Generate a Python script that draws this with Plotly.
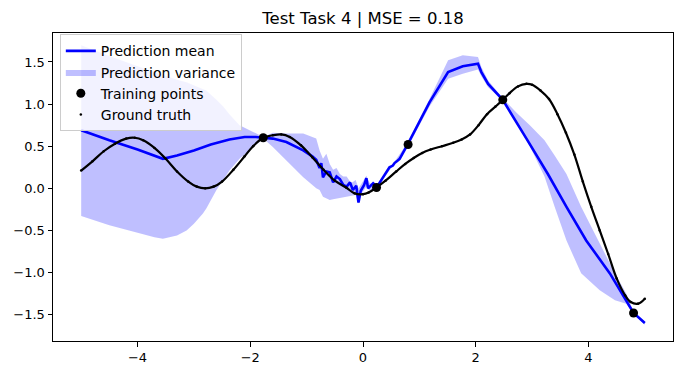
import plotly.graph_objects as go

# ---------------- data ----------------
mean_x = [-5.0, -4.5, -4.0, -3.55, -3.3, -3.0, -2.7, -2.37, -2.1, -1.9, -1.77, -1.6,
          -1.36, -1.2, -1.06, -0.9, -0.83, -0.77, -0.74, -0.71, -0.65, -0.59, -0.53,
          -0.47, -0.41, -0.35, -0.29, -0.23, -0.18, -0.12, -0.08, -0.04, 0.02, 0.06,
          0.09, 0.12, 0.18, 0.25, 0.47, 0.53, 0.56, 0.60, 0.65, 0.80, 1.18, 1.51,
          1.77, 2.04, 2.10, 2.22, 2.48, 2.90, 3.28, 3.61, 3.96, 4.38, 4.73, 4.80, 5.0]
mean_y = [0.69, 0.57, 0.46, 0.35, 0.39, 0.45, 0.52, 0.58, 0.61, 0.61, 0.60, 0.59,
          0.55, 0.50, 0.45, 0.38, 0.34, 0.24, 0.30, 0.13, 0.20, 0.19, 0.07,
          0.14, 0.11, 0.04, 0.02, 0.07, -0.02, 0.03, -0.17, -0.03, 0.04, 0.12,
          0.00, 0.02, 0.06, 0.02, 0.25, 0.27, 0.30, 0.32, 0.35, 0.53, 1.02, 1.38,
          1.45, 1.48, 1.38, 1.24, 1.05, 0.59, 0.17, -0.22, -0.62, -1.01, -1.41, -1.48, -1.60]

band_x = [-5.0, -4.5, -4.0, -3.7, -3.55, -3.3, -3.13, -3.0, -2.84, -2.78, -2.6, -2.48,
          -2.37, -2.19, -1.95, -1.77, -1.6, -1.36, -1.06, -0.83, -0.77, -0.71, -0.65,
          -0.59, -0.53, -0.47, -0.41, -0.35, -0.29, -0.21, -0.13, -0.08, -0.03, 0.06,
          0.12, 0.25, 0.50, 0.80, 1.18, 1.51, 1.77, 2.04, 2.10, 2.22, 2.48, 2.72,
          2.96, 3.22, 3.40, 3.61, 3.87, 4.20, 4.47, 4.67, 4.80, 5.0]
band_lo = [-0.33, -0.44, -0.53, -0.58, -0.60, -0.56, -0.50, -0.42, -0.30, -0.24, -0.02, 0.10,
           0.21, 0.35, 0.49, 0.59, 0.49, 0.33, 0.13, 0.00, -0.02, -0.10, -0.12,
           -0.14, -0.13, -0.12, -0.11, -0.10, -0.10, -0.09, -0.08, -0.18, -0.07, 0.02,
           -0.03, 0.01, 0.24, 0.50, 0.97, 1.30, 1.36, 1.41, 1.33, 1.20, 1.04, 0.78,
           0.50, 0.14, -0.22, -0.62, -1.01, -1.21, -1.33, -1.37, -1.49, -1.62]
band_hi = [1.70, 1.57, 1.45, 1.38, 1.35, 1.29, 1.26, 1.22, 1.18, 1.16, 1.05, 0.97,
           0.88, 0.75, 0.67, 0.61, 0.66, 0.65, 0.65, 0.59, 0.45, 0.35, 0.41,
           0.29, 0.22, 0.24, 0.17, 0.14, 0.14, 0.06, 0.10, 0.00, 0.05, 0.15,
           0.06, 0.03, 0.26, 0.55, 1.06, 1.52, 1.58, 1.56, 1.44, 1.28, 1.07, 0.90,
           0.75, 0.57, 0.39, 0.17, -0.22, -0.66, -1.01, -1.25, -1.47, -1.58]

train_x = [-1.77, 0.24, 0.80, 2.48, 4.80]
train_y = [0.60, 0.01, 0.52, 1.05, -1.48]

truth_x = [-5.0, -4.8, -4.6, -4.4, -4.2, -4.05, -3.9, -3.7, -3.5, -3.3, -3.1, -2.95,
           -2.8, -2.65, -2.5, -2.3, -2.1, -1.95, -1.77, -1.6, -1.45, -1.3, -1.1, -0.9,
           -0.7, -0.5, -0.3, -0.15, 0.0, 0.1, 0.24, 0.4, 0.59, 0.75, 0.9, 1.05, 1.2,
           1.4, 1.6, 1.75, 1.9, 2.05, 2.2, 2.35, 2.48, 2.6, 2.75, 2.9, 3.0, 3.15, 3.3,
           3.45, 3.6, 3.75, 3.9, 4.05, 4.2, 4.35, 4.5, 4.65, 4.75, 4.88, 5.0]
truth_y = [0.21, 0.32, 0.44, 0.53, 0.59, 0.60, 0.57, 0.48, 0.35, 0.20, 0.08, 0.02,
           0.00, 0.02, 0.08, 0.22, 0.38, 0.50, 0.60, 0.63, 0.64, 0.61, 0.51, 0.37,
           0.22, 0.09, 0.01, -0.06, -0.07, -0.05, 0.01, 0.09, 0.20, 0.29, 0.36, 0.42, 0.46,
           0.50, 0.54, 0.58, 0.64, 0.75, 0.88, 0.97, 1.05, 1.13, 1.21, 1.24, 1.23, 1.16, 1.06,
           0.88, 0.66, 0.40, 0.08, -0.22, -0.50, -0.78, -1.07, -1.27, -1.35, -1.37, -1.31]

x_ticks = [-4, -2, 0, 2, 4]
x_tick_text = ["\u22124", "\u22122", "0", "2", "4"]
y_ticks = [-1.5, -1.0, -0.5, 0.0, 0.5, 1.0, 1.5]
y_tick_text = ["\u22121.5", "\u22121.0", "\u22120.5", "0.0", "0.5", "1.0", "1.5"]

title_text = "Test Task 4 | MSE = 0.18"

# ---------------- figure ----------------
FONT = "DejaVu Sans"
fig = go.Figure()

fig.add_trace(go.Scatter(
    x=band_x + band_x[::-1], y=band_hi + band_lo[::-1],
    fill="toself", fillcolor="rgba(0,0,255,0.25)", line=dict(width=0),
    mode="lines", name="Prediction variance", legendrank=2, hoverinfo="skip"))

fig.add_trace(go.Scatter(
    x=mean_x, y=mean_y, mode="lines", line=dict(color="blue", width=2.6),
    name="Prediction mean", legendrank=1))

fig.add_trace(go.Scatter(
    x=truth_x, y=truth_y, mode="lines", line=dict(color="black", width=2.2, shape="spline"),
    showlegend=False, hoverinfo="skip"))

fig.add_trace(go.Scatter(
    x=truth_x, y=truth_y, mode="markers", marker=dict(color="black", size=2.5),
    name="Ground truth", legendrank=4))

fig.add_trace(go.Scatter(
    x=train_x, y=train_y, mode="markers", marker=dict(color="black", size=9),
    name="Training points", legendrank=3))

axis_common = dict(
    showgrid=False, zeroline=False, showline=True, linecolor="black", linewidth=1,
    mirror=True, ticks="outside", ticklen=4.5, tickwidth=1, tickcolor="black",
    automargin=False,
    tickfont=dict(family=FONT, size=13, color="black"),
)

fig.update_layout(
    width=683, height=374,
    margin=dict(l=53, r=10, t=33, b=33, autoexpand=False),
    paper_bgcolor="white", plot_bgcolor="white",
    title=dict(text=title_text, x=0.5, xref="paper", y=1 - 18 / 374, yref="container",
               xanchor="center", yanchor="middle",
               font=dict(family=FONT, size=16.5, color="black")),
    xaxis=dict(range=[-5.5, 5.5], tickvals=x_ticks, ticktext=x_tick_text, **axis_common),
    yaxis=dict(range=[-1.813, 1.844], tickvals=y_ticks, ticktext=y_tick_text, **axis_common),
    legend=dict(x=0.011, y=0.996, xanchor="left", yanchor="top",
                bgcolor="rgba(255,255,255,0.8)", bordercolor="#cccccc", borderwidth=1,
                font=dict(family=FONT, size=14, color="black"), traceorder="normal",
                tracegroupgap=0),
    showlegend=True,
)

fig.write_html(
    "out.html",
    config={"displayModeBar": False},
    post_script="document.body.style.margin='0px';document.body.style.overflow='hidden';",
)
